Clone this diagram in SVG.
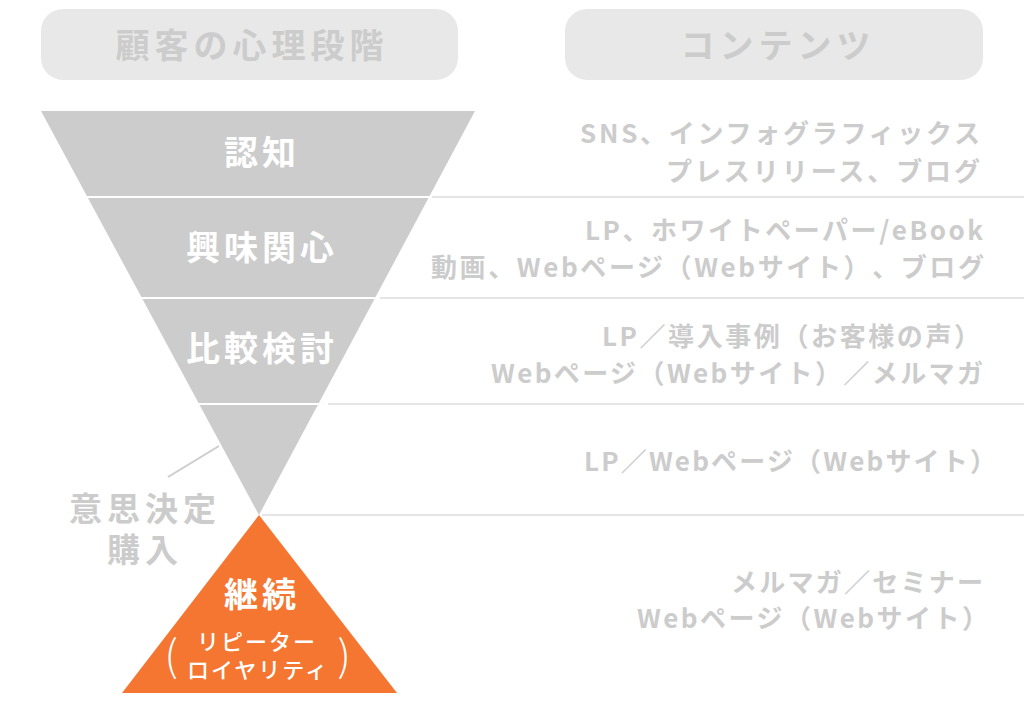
<svg xmlns="http://www.w3.org/2000/svg" width="1024" height="717" viewBox="0 0 1024 717">
<style>
text{font-family:"Noto Sans CJK JP","Noto Sans",sans-serif;text-spacing-trim:space-all;}
.hdr{fill:#e8e8e8;}
.hdrt{fill:#cccccc;font-size:34px;font-weight:700;letter-spacing:5px;text-anchor:middle;}
.fun{fill:#cccccc;}
.ft{fill:#ffffff;font-size:34px;font-weight:700;letter-spacing:4px;text-anchor:middle;}
.st{fill:#ffffff;font-size:22px;font-weight:500;letter-spacing:2px;text-anchor:middle;}
.par{fill:#ffffff;font-size:42px;font-weight:300;text-anchor:middle;}
.ct{fill:#cccccc;font-size:26px;font-weight:700;}
.lbl{fill:#cccccc;font-size:33px;font-weight:700;letter-spacing:5px;text-anchor:middle;}
.sep{stroke:#dddddd;stroke-width:1.5;fill:none;}
.wsep{stroke:#ffffff;stroke-width:2;fill:none;}
.lead{stroke:#cccccc;stroke-width:2;fill:none;}
</style>
<rect width="1024" height="717" fill="#ffffff"/>
<g id="header-psychology">
<rect class="hdr" x="41" y="9" width="417" height="71" rx="22"/>
<text class="hdrt" x="252" y="58">顧客の心理段階</text>
</g>
<g id="header-contents">
<rect class="hdr" x="565" y="9" width="418" height="71" rx="22"/>
<text class="hdrt" x="778" y="58">コンテンツ</text>
</g>
<g id="funnel">
<polygon class="fun" points="41,111 475,111 259,515"/>
</g>
<g id="stage-awareness">
<text class="ft" x="262" y="165">認知</text>
</g>
<g id="stage-interest">
<text class="ft" x="262" y="260">興味関心</text>
</g>
<g id="stage-comparison">
<text class="ft" x="262" y="361">比較検討</text>
</g>
<g id="stage-decision">
<text class="lbl" x="145" y="521">意思決定</text>
<text class="lbl" x="145" y="562">購入</text>
</g>
<g id="stage-retention">
<polygon fill="#f47630" points="259,515 397,693 122,693"/>
<text class="ft" x="262" y="607">継続</text>
<text class="st" x="257" y="650">リピーター</text>
<text class="st" x="258" y="678">ロイヤリティ</text>
<text class="par" x="171" y="671">(</text>
<text class="par" x="344" y="671">)</text>
</g>
<g id="connectors">
<line class="wsep" x1="86" y1="197" x2="430" y2="197"/>
<line class="wsep" x1="141" y1="298" x2="376" y2="298"/>
<line class="wsep" x1="198" y1="404" x2="319" y2="404"/>
<line class="sep" x1="432" y1="197" x2="1024" y2="197"/>
<line class="sep" x1="380" y1="298" x2="1024" y2="298"/>
<line class="sep" x1="328" y1="404" x2="1024" y2="404"/>
<line class="sep" x1="262" y1="515" x2="1024" y2="515"/>
<line class="lead" x1="168" y1="477" x2="219" y2="446"/>
</g>
<g id="contents-awareness">
<text class="ct" x="580" y="143" textLength="400" lengthAdjust="spacing">SNS、インフォグラフィックス</text>
<text class="ct" x="666" y="181" textLength="314" lengthAdjust="spacing">プレスリリース、ブログ</text>
</g>
<g id="contents-interest">
<text class="ct" x="585" y="240" textLength="398" lengthAdjust="spacing">LP、ホワイトペーパー/eBook</text>
<text class="ct" x="431" y="277" textLength="553" lengthAdjust="spacing">動画、Webページ（Webサイト）、ブログ</text>
</g>
<g id="contents-comparison">
<text class="ct" x="602" y="346" textLength="378" lengthAdjust="spacing">LP／導入事例（お客様の声）</text>
<text class="ct" x="491" y="383" textLength="492" lengthAdjust="spacing">Webページ（Webサイト）／メルマガ</text>
</g>
<g id="contents-decision">
<text class="ct" x="584" y="471" textLength="412" lengthAdjust="spacing">LP／Webページ（Webサイト）</text>
</g>
<g id="contents-retention">
<text class="ct" x="731" y="592" textLength="252" lengthAdjust="spacing">メルマガ／セミナー</text>
<text class="ct" x="637" y="628" textLength="351" lengthAdjust="spacing">Webページ（Webサイト）</text>
</g>
</svg>
